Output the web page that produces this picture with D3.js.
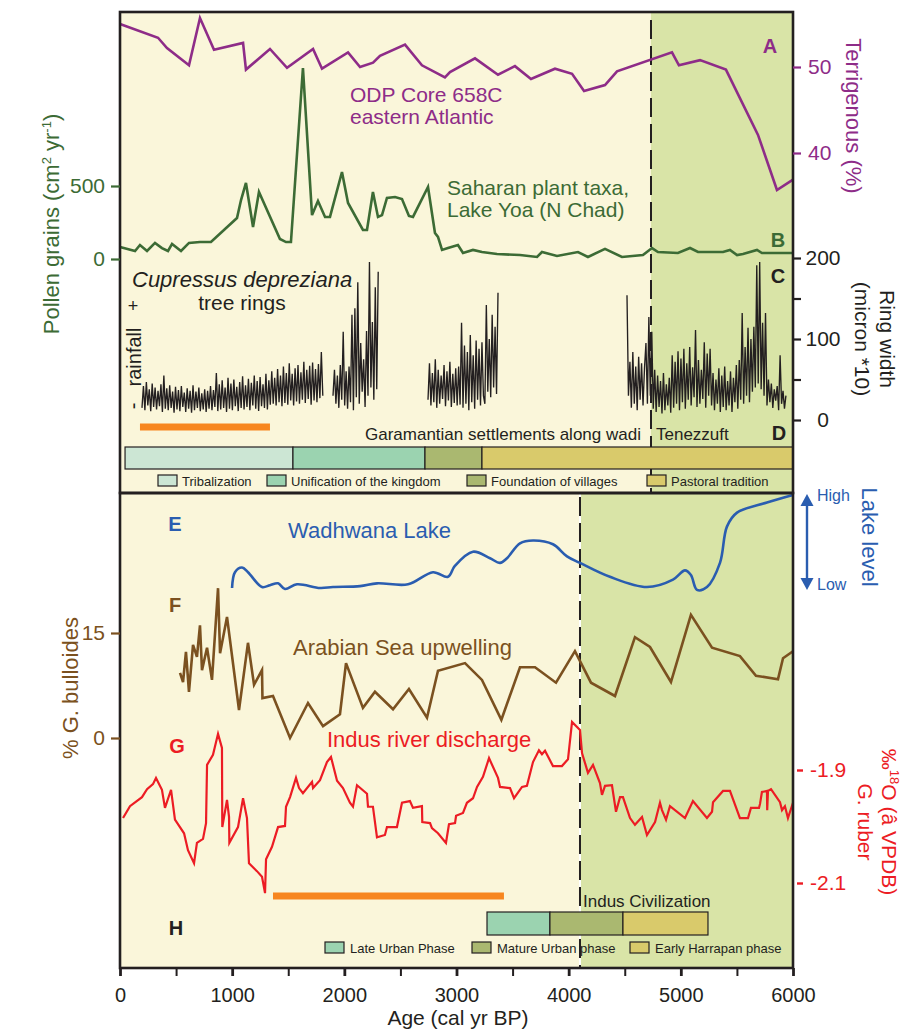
<!DOCTYPE html>
<html><head><meta charset="utf-8">
<script src="https://cdn.jsdelivr.net/npm/d3@7"></script>
<style>
body{margin:0;background:#fff;}
svg{display:block;font-family:Arial,"Liberation Sans",Helvetica,sans-serif;}
</style></head><body>
<svg id="c" width="901" height="1029"></svg>
<script>
// ---------------- DATA ----------------
const ageTicks = [0,500,1000,1500,2000,2500,3000,3500,4000,4500,5000,5500,6000];
const boundaryAges = [4734, 4101]; // upper panel, lower panel dashed lines

// A: ODP 658C terrigenous (%)  [age, %]
const terrigenous = [[0,55.0],[339,53.4],[419,52.2],[615,50.2],[713,55.7],[838,52.0],[1097,52.8],[1123,49.7],[1337,52.1],[1489,49.9],[1721,52.1],[1801,49.8],[2033,51.7],[2140,50.0],[2256,50.5],[2318,51.3],[2541,52.6],[2692,50.2],[2897,48.8],[2942,49.4],[3165,51.0],[3370,49.1],[3521,50.1],[3664,48.6],[3878,49.8],[4030,49.2],[4137,47.2],[4324,47.9],[4431,49.5],[4921,51.7],[4983,50.2],[5171,50.8],[5402,49.7],[5688,42.1],[5857,35.7],[6000,36.9]];
const terrTicks = [40,50];

// B: Saharan pollen, Lake Yoa [age, grains]
const pollen = [[0,82],[134,55],[178,96],[241,55],[312,110],[374,75],[428,55],[464,103],[544,55],[615,110],[713,116],[811,116],[1043,281],[1079,404],[1123,521],[1186,219],[1239,459],[1426,137],[1480,116],[1524,116],[1631,1308],[1712,301],[1765,397],[1828,288],[1872,288],[1979,596],[2033,384],[2166,199],[2202,199],[2255,459],[2300,288],[2336,301],[2380,418],[2452,425],[2514,411],[2576,295],[2612,288],[2746,493],[2808,178],[2835,151],[2871,62],[2924,75],[3013,96],[3058,41],[3147,62],[3227,48],[3361,34],[3566,27],[3718,14],[3762,48],[3896,21],[4083,48],[4172,14],[4324,69],[4475,14],[4662,27],[4743,75],[4796,48],[4974,41],[5082,75],[5153,48],[5376,48],[5438,62],[5501,27],[5554,34],[5679,62],[5723,41],[6000,41]];
const pollenTicks = [0,500];

// C: Cupressus dupreziana ring width (micron*10), segments with start age, 13-yr steps
const ringStep = 13;
const ringStarts = [196, 1899, 2746, 4520];
const ring1 = [15,42,12,47,18,38,11,45,16,40, 13,36,17,44,10,55,14,39,12,43, 15,35,9,41,13,37,11,42,16,34, 10,39,14,36,9,43,12,35,15,40, 11,33,13,38,10,36,14,42,12,37, 16,58,11,44,13,49,15,40,10,52, 14,45,12,50,17,41,11,47,15,54, 13,43,16,51,12,46,18,55,14,48, 11,53,17,44,15,57,13,49,19,60, 20,52,18,63,22,55,17,66,21,58, 19,70,24,57,18,64,23,68,20,59, 25,72,21,62,26,67,19,71,24,63, 22,69,27,84,30];
const ring2 = [30,62,20,55,15,68,25,109,18,60,14,66,22,130,12,138,28,170,20,95,35,75,16,110,30,195,40,121,25,164,38,183];
const ring3 = [25,70,18,58,22,75,15,62,20,55,26,68,17,60,24,72,16,57,21,64,18,66,19,120,15,92,20,84,12,105,22,80,14,98,25,88,18,96,30,20,142,35,100,28,130,40,115,32,157];
const ring4 = [154,30,72,15,84,20,66,12,78,25,70,18,64,95,20,127,30,109,14,62,10,55,16,48,8,58,12,44,18,52,9,80,15,72,20,85,12,76,22,88,14,70,25,90,18,65,28,111,16,74,20,62,26,96,15,82,30,88,18,58,12,50,20,64,10,55,16,66,12,48,18,60,10,52,22,68,14,74,25,132,20,90,30,114,22,100,35,115,40,191,45,195,38,120,30,132,18,50,22,45,15,38,24,42,12,80,20,36,14,30];
const ringTicks = [0,50,100,150,200];
const ringLabels = [0,100,200];

// D: Garamantian settlements phases
const garamantian = [
  {s:45, e:1542, label:"Tribalization", c:"#cce6d4"},
  {s:1542, e:2719, label:"Unification of the kingdom", c:"#9bd3b0"},
  {s:2719, e:3227, label:"Foundation of villages", c:"#aab870"},
  {s:3227, e:6000, label:"Pastoral tradition", c:"#d9ca6b"}];
const orangeUpper = [178, 1337];
const orangeLower = [1364, 3423];

// E: Wadhwana lake level (0 = low, 1 = high)
const lake = [[999,0.0],[1025,0.17],[1088,0.22],[1141,0.17],[1266,0.01],[1337,0.03],[1409,0.05],[1471,-0.01],[1578,0.04],[1783,0.0],[1899,0.01],[2140,0.02],[2291,0.05],[2568,0.04],[2790,0.17],[2924,0.12],[2987,0.24],[3147,0.39],[3299,0.32],[3388,0.27],[3450,0.32],[3566,0.48],[3682,0.51],[3860,0.47],[3985,0.34],[4101,0.27],[4368,0.12],[4698,0.01],[4930,0.09],[5037,0.19],[5090,0.14],[5144,-0.02],[5233,0.01],[5349,0.27],[5411,0.66],[5501,0.81],[5768,0.92],[6000,1.0]];

// F: % G. bulloides
const bulloides = [[535,9.3],[562,8.0],[588,12.3],[615,6.6],[651,13.3],[686,11.6],[713,16.1],[731,9.7],[776,12.9],[820,8.3],[874,21.4],[892,12.1],[954,17.3],[1061,4.0],[1141,13.6],[1195,7.6],[1266,9.7],[1270,5.7],[1364,6.0],[1516,0.0],[1676,5.0],[1810,1.7],[1961,3.4],[2015,10.7],[2166,4.3],[2273,6.6],[2434,4.1],[2576,7.0],[2737,2.9],[2835,9.6],[3076,10.7],[3227,8.3],[3400,2.6],[3566,10.1],[3700,10.1],[3887,7.9],[4056,12.4],[4199,7.9],[4413,6.0],[4591,14.4],[4725,13.0],[4912,8.0],[5090,17.6],[5278,12.9],[5527,11.7],[5670,8.9],[5866,8.4],[5911,11.4],[6000,12.4]];
const bullTicks = [0,15];

// G: Indus discharge, d18O G. ruber
const d18O = [[27,-1.985],[89,-1.964],[196,-1.948],[241,-1.934],[294,-1.925],[321,-1.914],[374,-1.935],[401,-1.967],[455,-1.935],[490,-1.988],[571,-2.012],[606,-2.042],[660,-2.065],[686,-2.029],[740,-2.022],[767,-1.994],[776,-1.891],[829,-1.873],[874,-1.836],[909,-1.861],[912,-2.001],[954,-1.953],[972,-1.983],[975,-2.029],[1052,-2.001],[1097,-1.950],[1132,-1.985],[1150,-2.065],[1221,-2.079],[1266,-2.089],[1293,-2.118],[1302,-2.058],[1355,-2.036],[1409,-2.001],[1471,-1.999],[1480,-1.965],[1516,-1.948],[1569,-1.914],[1596,-1.932],[1631,-1.941],[1712,-1.921],[1721,-1.932],[1783,-1.918],[1845,-1.886],[1881,-1.877],[1935,-1.919],[1988,-1.932],[2050,-1.958],[2077,-1.965],[2113,-1.927],[2202,-1.942],[2211,-1.965],[2255,-1.965],[2291,-2.019],[2362,-2.015],[2380,-2.001],[2469,-2.001],[2514,-1.958],[2585,-1.955],[2612,-1.967],[2692,-1.964],[2695,-1.992],[2764,-1.994],[2781,-2.003],[2835,-2.012],[2906,-2.029],[2933,-1.996],[2987,-1.994],[2996,-1.981],[3058,-1.976],[3093,-1.958],[3147,-1.950],[3183,-1.930],[3236,-1.912],[3290,-1.879],[3370,-1.914],[3388,-1.930],[3477,-1.932],[3513,-1.950],[3584,-1.930],[3628,-1.928],[3682,-1.886],[3735,-1.865],[3762,-1.872],[3789,-1.866],[3860,-1.893],[3940,-1.893],[3994,-1.881],[4030,-1.815],[4101,-1.829],[4119,-1.870],[4172,-1.905],[4217,-1.891],[4279,-1.923],[4297,-1.944],[4324,-1.928],[4386,-1.927],[4422,-1.974],[4458,-1.948],[4484,-1.948],[4547,-1.985],[4591,-1.997],[4654,-1.983],[4698,-2.015],[4770,-1.992],[4814,-1.958],[4832,-1.971],[4868,-1.988],[4903,-1.964],[5037,-1.985],[5108,-1.955],[5233,-1.985],[5278,-1.974],[5287,-1.957],[5376,-1.937],[5438,-1.937],[5527,-1.985],[5599,-1.985],[5625,-1.967],[5697,-1.967],[5706,-1.960],[5723,-1.939],[5768,-1.937],[5770,-1.971],[5777,-1.937],[5804,-1.934],[5884,-1.957],[5902,-1.971],[5928,-1.964],[5955,-1.985],[6000,-1.958]];
const d18OTicks = [-2.1,-1.9];

// H: Indus Civilization phases
const indus = [
  {s:3272, e:3833, label:"Late Urban Phase", c:"#9bd3b0"},
  {s:3833, e:4484, label:"Mature Urban phase", c:"#aab870"},
  {s:4484, e:5242, label:"Early Harrapan phase", c:"#d9ca6b"}];

// ---------------- LAYOUT ----------------
const X0=120, X1=793, TOP=12, MID=493, BOT=968;
const DARK="#231f20", CREAM="#faf6da", GREEN_BG="#d9e4a7";
const PURPLE="#8e2c88", GREEN="#3c6b35", BLUE="#2a5db0", BROWN="#7b5120", RED="#ec1c24", ORANGE="#f7861f";
const FONT='Arial,"Liberation Sans",Helvetica,sans-serif';

const svg = d3.select('#c');
const x = d3.scaleLinear().domain([0,6000]).range([X0,X1]);
const yTerr = d3.scaleLinear().domain([40,50]).range([153,67]);
const yPol = d3.scaleLinear().domain([0,500]).range([259,186]);
const yRing = d3.scaleLinear().domain([0,200]).range([420,258]);
const yLake = d3.scaleLinear().domain([0,1]).range([588,495]);
const yBul = d3.scaleLinear().domain([0,15]).range([738,633]);
const yO = d3.scaleLinear().domain([-2.1,-1.9]).range([883,770]);

// backgrounds
svg.append('rect').attr('x',X0).attr('y',TOP).attr('width',x(boundaryAges[0])-X0).attr('height',MID-TOP).attr('fill',CREAM);
svg.append('rect').attr('x',x(boundaryAges[0])).attr('y',TOP).attr('width',X1-x(boundaryAges[0])).attr('height',MID-TOP).attr('fill',GREEN_BG);
svg.append('rect').attr('x',X0).attr('y',MID).attr('width',x(boundaryAges[1])-X0).attr('height',BOT-MID).attr('fill',CREAM);
svg.append('rect').attr('x',x(boundaryAges[1])).attr('y',MID).attr('width',X1-x(boundaryAges[1])).attr('height',BOT-MID).attr('fill',GREEN_BG);

// dashed lines
svg.append('line').attr('x1',x(boundaryAges[0])).attr('x2',x(boundaryAges[0])).attr('y1',TOP).attr('y2',MID)
  .attr('stroke',DARK).attr('stroke-width',2).attr('stroke-dasharray','19,7').attr('stroke-dashoffset',-8);
svg.append('line').attr('x1',x(boundaryAges[1])).attr('x2',x(boundaryAges[1])).attr('y1',MID).attr('y2',BOT)
  .attr('stroke','#fff').attr('stroke-width',2);
svg.append('line').attr('x1',x(boundaryAges[1])).attr('x2',x(boundaryAges[1])).attr('y1',MID).attr('y2',BOT)
  .attr('stroke',DARK).attr('stroke-width',2).attr('stroke-dasharray','19,7').attr('stroke-dashoffset',-4);

// D bar
svg.append('g').selectAll('rect').data(garamantian).join('rect')
  .attr('x',d=>x(d.s)).attr('y',447).attr('width',d=>x(d.e)-x(d.s)).attr('height',22)
  .attr('fill',d=>d.c).attr('stroke',DARK).attr('stroke-width',1.2);
const dLegX = [158, 267, 467, 647];
garamantian.forEach((d,i)=>{
  svg.append('rect').attr('x',dLegX[i]).attr('y',475).attr('width',19).attr('height',11).attr('fill',d.c).attr('stroke',DARK).attr('stroke-width',1.2);
  svg.append('text').attr('x',dLegX[i]+24).attr('y',485.5).attr('font-size',13).attr('fill',DARK).text(d.label);
});
svg.append('text').attr('x',365).attr('y',440).attr('font-size',17).attr('fill',DARK).text('Garamantian settlements along wadi');
svg.append('text').attr('x',656).attr('y',440).attr('font-size',17).attr('fill',DARK).text('Tenezzuft');

// H bar
svg.append('g').selectAll('rect').data(indus).join('rect')
  .attr('x',d=>x(d.s)).attr('y',912).attr('width',d=>x(d.e)-x(d.s)).attr('height',23)
  .attr('fill',d=>d.c).attr('stroke',DARK).attr('stroke-width',1.2);
const hLegX = [325, 472, 630];
indus.forEach((d,i)=>{
  svg.append('rect').attr('x',hLegX[i]).attr('y',942).attr('width',19).attr('height',11).attr('fill',d.c).attr('stroke',DARK).attr('stroke-width',1.2);
  svg.append('text').attr('x',hLegX[i]+25).attr('y',952.5).attr('font-size',13).attr('fill',DARK).text(d.label);
});
svg.append('text').attr('x',583).attr('y',907).attr('font-size',17).attr('fill',DARK).text('Indus Civilization');

// orange bars
[[orangeUpper,427],[orangeLower,896]].forEach(([r,yy])=>{
  svg.append('line').attr('x1',x(r[0])).attr('x2',x(r[1])).attr('y1',yy).attr('y2',yy).attr('stroke',ORANGE).attr('stroke-width',7);
});

// series
const lineXY = (ys)=>d3.line().x(d=>x(d[0])).y(d=>ys(d[1]));
svg.append('path').datum(terrigenous).attr('d',lineXY(yTerr)).attr('fill','none').attr('stroke',PURPLE).attr('stroke-width',2.6);
svg.append('path').datum(pollen).attr('d',lineXY(yPol)).attr('fill','none').attr('stroke',GREEN).attr('stroke-width',2.6);

[ring1,ring2,ring3,ring4].forEach((arr,k)=>{
  const pts = arr.map((v,i)=>[ringStarts[k]+i*ringStep, v]);
  svg.append('path').datum(pts).attr('d',lineXY(yRing)).attr('fill','none').attr('stroke',DARK).attr('stroke-width',1.35);
});

svg.append('path').datum(lake).attr('d',d3.line().x(d=>x(d[0])).y(d=>yLake(d[1])).curve(d3.curveCatmullRom.alpha(0.5)))
  .attr('fill','none').attr('stroke',BLUE).attr('stroke-width',2.6);
svg.append('path').datum(bulloides).attr('d',lineXY(yBul)).attr('fill','none').attr('stroke',BROWN).attr('stroke-width',2.6);
svg.append('path').datum(d18O).attr('d',lineXY(yO)).attr('fill','none').attr('stroke',RED).attr('stroke-width',2.2);

// frames
svg.append('rect').attr('x',X0).attr('y',TOP).attr('width',X1-X0).attr('height',MID-TOP).attr('fill','none').attr('stroke',DARK).attr('stroke-width',2.6);
svg.append('rect').attr('x',X0).attr('y',MID).attr('width',X1-X0).attr('height',BOT-MID).attr('fill','none').attr('stroke',DARK).attr('stroke-width',2.6);

function styleAxis(g,color,size){
  g.attr('font-family',FONT).attr('font-size',size).attr('color',color);
  g.select('.domain').remove();
  g.selectAll('.tick line').attr('stroke-width',2.2);
}
// bottom axis
const gx = svg.append('g').attr('transform',`translate(0,${BOT})`)
  .call(d3.axisBottom(x).tickValues(ageTicks).tickSize(8).tickPadding(12).tickFormat(d=>d%1000===0?String(d):''));
styleAxis(gx,DARK,20);
gx.selectAll('.tick line').attr('stroke-width',d=>d%1000===0?2.8:2);
svg.append('text').attr('x',458).attr('y',1025).attr('text-anchor','middle').attr('font-size',21).attr('fill',DARK).text('Age (cal yr BP)');

// left axes
const gp = svg.append('g').attr('transform',`translate(${X0},0)`).call(d3.axisLeft(yPol).tickValues(pollenTicks).tickSize(9).tickPadding(6));
styleAxis(gp,GREEN,21);
const gb = svg.append('g').attr('transform',`translate(${X0},0)`).call(d3.axisLeft(yBul).tickValues(bullTicks).tickSize(9).tickPadding(6));
styleAxis(gb,BROWN,21);
// right axes
const gt = svg.append('g').attr('transform',`translate(${X1},0)`).call(d3.axisRight(yTerr).tickValues(terrTicks).tickSize(8).tickPadding(7));
styleAxis(gt,PURPLE,21);
const gr = svg.append('g').attr('transform',`translate(${X1},0)`).call(d3.axisRight(yRing).tickValues(ringTicks).tickSize(8).tickFormat(d=>ringLabels.includes(d)?String(d):''));
styleAxis(gr,DARK,21);
gr.selectAll('.tick text').attr('x',30).attr('text-anchor','middle');
const go = svg.append('g').attr('transform',`translate(${X1},0)`).call(d3.axisRight(yO).tickValues(d18OTicks).tickSize(0).tickFormat(d=>d.toFixed(1)));
styleAxis(go,RED,21);
go.selectAll('.tick line').attr('x1',4).attr('x2',10).attr('stroke-width',2.4);
go.selectAll('.tick text').attr('x',17);

// lake level arrow
svg.append('line').attr('x1',807).attr('x2',807).attr('y1',503).attr('y2',580).attr('stroke',BLUE).attr('stroke-width',2.4);
svg.append('path').attr('d','M807,494 L800.5,506 L813.5,506 Z').attr('fill',BLUE);
svg.append('path').attr('d','M807,590 L800.5,578 L813.5,578 Z').attr('fill',BLUE);
svg.append('text').attr('x',817).attr('y',501).attr('font-size',16).attr('fill',BLUE).text('High');
svg.append('text').attr('x',817).attr('y',590).attr('font-size',16).attr('fill',BLUE).text('Low');

// rotated axis titles
function rot(xp,yp,angle,color,size){
  return svg.append('text').attr('transform',`translate(${xp},${yp}) rotate(${angle})`)
    .attr('text-anchor','middle').attr('dy','0.35em').attr('font-size',size).attr('fill',color);
}
const pl = rot(51,224,-90,GREEN,22);
pl.append('tspan').text('Pollen grains (cm');
pl.append('tspan').attr('dy',-8).attr('font-size',13).text('2');
pl.append('tspan').attr('dy',8).text(' yr');
pl.append('tspan').attr('dy',-8).attr('font-size',13).text('-1');
pl.append('tspan').attr('dy',8).text(')');
rot(70,688,-90,BROWN,22).text('% G. bulloides');
rot(854,116,90,PURPLE,22).text('Terrigenous (%)');
rot(887,339,90,DARK,21).text('Ring width');
rot(862,339,90,DARK,21).text('(micron *10)');
rot(870,537,90,BLUE,22).text('Lake level');
const ol = rot(889,822,90,RED,21);
ol.append('tspan').text('‰');
ol.append('tspan').attr('dy',-8).attr('font-size',13).text('18');
ol.append('tspan').attr('dy',8).text('O (â  VPDB)');
rot(865,822,90,RED,21).text('G. ruber');
// rainfall
rot(134,357,-90,DARK,20).text('rainfall');
svg.append('text').attr('x',133).attr('y',312).attr('text-anchor','middle').attr('font-size',18).attr('fill',DARK).text('+');
rot(133,406,-90,DARK,20).text('-');

// in-plot labels
function lab(xp,yp,txt,color,size,extra){
  const t = svg.append('text').attr('x',xp).attr('y',yp).attr('font-size',size).attr('fill',color).text(txt);
  if(extra) extra(t);
  return t;
}
lab(350,102,'ODP Core 658C',PURPLE,21);
lab(350,124,'eastern Atlantic',PURPLE,21);
lab(447,195,'Saharan plant taxa,',GREEN,21);
lab(447,217,'Lake Yoa (N Chad)',GREEN,21);
lab(132,287,'Cupressus depreziana',DARK,22,t=>t.attr('font-style','italic'));
lab(242,310,'tree rings',DARK,21,t=>t.attr('text-anchor','middle'));
lab(288,538,'Wadhwana Lake',BLUE,22);
lab(293,655,'Arabian Sea upwelling',BROWN,22);
lab(327,747,'Indus river discharge',RED,22);

const letters = [['A',770,53,PURPLE],['B',778,247,GREEN],['C',778,283,DARK],['D',779,440,DARK],
  ['E',175,531,BLUE],['F',175,612,BROWN],['G',177,753,RED],['H',176,935,DARK]];
letters.forEach(([t,xp,yp,c])=>lab(xp,yp,t,c,20,s=>s.attr('font-weight','bold').attr('text-anchor','middle')));
</script>
</body></html>
